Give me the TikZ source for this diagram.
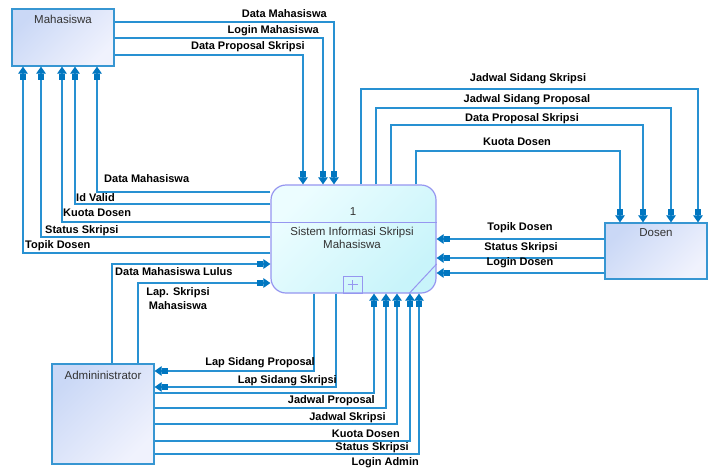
\documentclass[tikz,border=0pt]{standalone}
\usepackage{fontspec}
\setmainfont{Liberation Sans}
\usetikzlibrary{arrows.meta}
\definecolor{flowc}{RGB}{40,145,210}
\definecolor{tipc}{RGB}{0,118,192}
\definecolor{entb}{RGB}{55,150,210}
\definecolor{entA}{RGB}{202,216,246}
\definecolor{entB}{RGB}{240,242,253}
\definecolor{procb}{RGB}{150,150,240}
\definecolor{procA}{RGB}{236,253,255}
\definecolor{procB}{RGB}{200,244,250}
\definecolor{txt}{RGB}{50,50,50}
\begin{document}
\begin{tikzpicture}[x=1pt,y=-1pt,
  entity/.style={draw=entb, line width=1.2pt, top color=entA, bottom color=entB,
    shading angle=45, inner sep=0pt},
  process/.style={draw=procb, line width=1.2pt, rounded corners=15pt,
    top color=procA, bottom color=procB, shading angle=45, inner sep=0pt},
  ename/.style={inner sep=0pt, text=txt, font=\fontsize{11.5}{13.5}\selectfont},
  lbl/.style={inner sep=0pt, font=\fontsize{11}{13}\selectfont\bfseries},
  flow/.style={draw=flowc, line width=1.1pt,
    -{Rectangle[length=6pt,width=5.5pt,color=tipc,fill=tipc]Triangle[length=7pt,width=9.5pt,color=tipc,fill=tipc]}},
  rule/.style={draw=procb, line width=1pt}]
\useasboundingbox (0,0) rectangle (712,472);
\fill[white] (0,0) rectangle (712,472);

% ---- external entities and the process ----
\node[entity, minimum width=102pt, minimum height=57pt] (mhs) at (63,37.5) {};
\node[ename] (mhsT) at (63,19) {Mahasiswa};
\node[entity, minimum width=102pt, minimum height=56pt] (dos) at (656,251) {};
\node[ename] (dosT) at (656,233) {Dosen};
\node[entity, minimum width=102pt, minimum height=100pt] (adm) at (103,414) {};
\node[ename] (admT) at (103,375) {Admininistrator};
\node[process, minimum width=165pt, minimum height=108pt] (proc) at (353.5,239) {};

% process internals
\draw[rule] (proc.west |- 0,222) -- (proc.east |- 0,222);
\node[ename] (pnum) at (353,212) {1};
\node[ename, align=center, font=\fontsize{11.5}{12.5}\selectfont] (pname) at (352,238)
  {Sistem Informasi Skripsi\\Mahasiswa};
\node[draw=procb, line width=1pt, minimum width=19pt, minimum height=17pt, inner sep=0pt]
  (pplus) at (352.5,284.5) {};
\draw[rule] ([xshift=-5pt]pplus.center) -- ([xshift=5pt]pplus.center);
\draw[rule] ([yshift=-5pt]pplus.center) -- ([yshift=5pt]pplus.center);
\draw[rule] (proc.east |- 0,264) -- (409,0 |- proc.south);

% ---- Mahasiswa -> process ----
\draw[flow] (mhs.east |- 0,22) -| (334,0 |- proc.north);
\draw[flow] (mhs.east |- 0,38) -| (323,0 |- proc.north);
\draw[flow] (mhs.east |- 0,55) -| (303,0 |- proc.north);
\node[lbl, anchor=east] (l1) at (327,14) {Data Mahasiswa};
\node[lbl, anchor=east] (l2) at (319,31) {Login Mahasiswa};
\node[lbl, anchor=east] (l3) at (305,47) {Data Proposal Skripsi};

% ---- process -> Mahasiswa ----
\draw[flow] (proc.west |- 0,192) -| (97,0 |- mhs.south);
\draw[flow] (proc.west |- 0,204) -| (75,0 |- mhs.south);
\draw[flow] (proc.west |- 0,222) -| (62,0 |- mhs.south);
\draw[flow] (proc.west |- 0,237) -| (41,0 |- mhs.south);
\draw[flow] (proc.west |- 0,253) -| (23,0 |- mhs.south);
\node[lbl, anchor=west] (l4) at (104,179) {Data Mahasiswa};
\node[lbl, anchor=west] (l5) at (76,198) {Id Valid};
\node[lbl, anchor=west] (l6) at (63,213) {Kuota Dosen};
\node[lbl, anchor=west] (l7) at (45,231) {Status Skripsi};
\node[lbl, anchor=west] (l8) at (25,246) {Topik Dosen};

% ---- process -> Dosen ----
\draw[flow] (361,0 |- proc.north) |- (698,89) -- (698,0 |- dos.north);
\draw[flow] (376,0 |- proc.north) |- (671,108) -- (671,0 |- dos.north);
\draw[flow] (391,0 |- proc.north) |- (643,125) -- (643,0 |- dos.north);
\draw[flow] (416,0 |- proc.north) |- (620,151) -- (620,0 |- dos.north);
\node[lbl] (l9) at (528,79) {Jadwal Sidang Skripsi};
\node[lbl] (l10) at (527,100) {Jadwal Sidang Proposal};
\node[lbl] (l11) at (522,119) {Data Proposal Skripsi};
\node[lbl] (l12) at (517,142) {Kuota Dosen};

% ---- Dosen -> process ----
\draw[flow] (dos.west |- 0,239) -- (proc.east |- 0,239);
\draw[flow] (dos.west |- 0,258) -- (proc.east |- 0,258);
\draw[flow] (dos.west |- 0,273) -- (proc.east |- 0,273);
\node[lbl] (l13) at (520,228) {Topik Dosen};
\node[lbl] (l14) at (521,248) {Status Skripsi};
\node[lbl] (l15) at (520,263) {Login Dosen};

% ---- Admininistrator -> process (left side) ----
\draw[flow] (112,0 |- adm.north) |- (proc.west |- 0,264);
\draw[flow] (138,0 |- adm.north) |- (proc.west |- 0,283);
\node[lbl, anchor=west] (l16) at (115,272) {Data Mahasiswa Lulus};
\node[lbl, align=center, font=\fontsize{11}{14}\selectfont\bfseries] (l17) at (178,299)
  {Lap. Skripsi\\Mahasiswa};

% ---- process -> Admininistrator ----
\draw[flow] (314,0 |- proc.south) |- (adm.east |- 0,371);
\draw[flow] (336,0 |- proc.south) |- (adm.east |- 0,387);
\node[lbl, anchor=east] (l18) at (315,363) {Lap Sidang Proposal};
\node[lbl, anchor=east] (l19) at (337,381) {Lap Sidang Skripsi};

% ---- Admininistrator -> process (bottom) ----
\draw[flow] (adm.east |- 0,393) -| (374,0 |- proc.south);
\draw[flow] (adm.east |- 0,408) -| (386,0 |- proc.south);
\draw[flow] (adm.east |- 0,424) -| (397,0 |- proc.south);
\draw[flow] (adm.east |- 0,441) -| (410,0 |- proc.south);
\draw[flow] (adm.east |- 0,454) -| (419,0 |- proc.south);
\node[lbl, anchor=east] (l20) at (375,401) {Jadwal Proposal};
\node[lbl, anchor=east] (l21) at (386,418) {Jadwal Skripsi};
\node[lbl, anchor=east] (l22) at (400,434) {Kuota Dosen};
\node[lbl, anchor=east] (l23) at (409,448) {Status Skripsi};
\node[lbl, anchor=east] (l24) at (419,463) {Login Admin};
\end{tikzpicture}
\end{document}
